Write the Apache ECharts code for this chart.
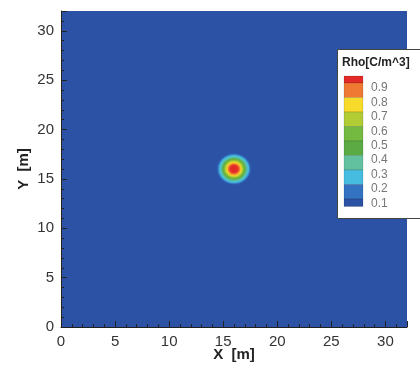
<!DOCTYPE html>
<html>
<head>
<meta charset="utf-8">
<script src="https://cdn.jsdelivr.net/npm/echarts@6/dist/echarts.min.js"></script>
<style>
  html, body { margin: 0; padding: 0; background: #fff; }
  #chart { width: 420px; height: 365px; }
</style>
</head>
<body>
<div id="chart"></div>
<script>
// contour bands (value inside each band) and their colours, low -> high
const bandValues = [0.05, 0.15, 0.25, 0.35, 0.45, 0.55, 0.65, 0.75, 0.85, 0.95];
const bandColors = ['#2c52a5', '#3472c2', '#46bde0', '#62c2a0', '#5aab44', '#74ba40', '#b2cc34', '#f7da2a', '#ef7833', '#e32a26'];
const legendLabels = ['0.9', '0.8', '0.7', '0.6', '0.5', '0.4', '0.3', '0.2', '0.1'];

// charge blob: centre [m] and outer radius [m] of each contour ring
const blobCenter = [16, 16];
const ringValues = [0.15, 0.25, 0.35, 0.45, 0.55, 0.65, 0.75, 0.85, 0.95];
const ringRadius = [1.5, 1.38, 1.2, 1.06, 0.95, 0.83, 0.7, 0.56, 0.4];

const xTicks = [0, 5, 10, 15, 20, 25, 30];
const yTicks = [0, 5, 10, 15, 20, 25, 30];

const chart = echarts.init(document.getElementById('chart'));
const font = 'Liberation Sans, Arial, sans-serif';

const ringData = ringValues.map((v, i) => [blobCenter[0], blobCenter[1], ringRadius[i], v]);

const pieces = bandValues.map((v, i) => ({ min: v - 0.05, max: v + 0.05, color: bandColors[i] }));

// legend built by hand to match the Tecplot style box
const legendEls = [];
legendEls.push({
  type: 'rect', shape: { x: 337.5, y: 49.5, width: 100, height: 169 },
  style: { fill: '#fff', stroke: '#444', lineWidth: 1 }
});
legendEls.push({
  type: 'text', x: 342, y: 63,
  style: { text: 'Rho[C/m^3]', font: 'bold 12px ' + font, fill: '#222', verticalAlign: 'middle' }
});
const bandHeights = [7, 14.5, 14.5, 14.5, 14.5, 14.5, 14.5, 14.5, 14.5, 7.5];
let by = 76;
for (let i = 0; i < bandHeights.length; i++) {
  const c = bandColors[bandColors.length - 1 - i];
  legendEls.push({
    type: 'rect', shape: { x: 344, y: by, width: 19, height: bandHeights[i] },
    style: { fill: c, stroke: 'rgba(0,0,0,0.25)', lineWidth: 0.5 }
  });
  by += bandHeights[i];
}
legendLabels.forEach((t, i) => {
  legendEls.push({
    type: 'text', x: 371, y: 88 + i * 14.4,
    style: { text: t, font: '12px ' + font, fill: '#777', verticalAlign: 'middle' }
  });
});

const axisCommon = {
  type: 'value', min: 0, max: 32, interval: 5,
  axisLine: { show: true, onZero: false, lineStyle: { color: '#222', width: 1 } },
  axisTick: { show: true, inside: true, length: 6, lineStyle: { color: '#222' } },
  minorTick: { show: true, splitNumber: 5, length: 3, lineStyle: { color: '#222' } },
  splitLine: { show: false },
  axisLabel: {
    fontSize: 15, color: '#333', fontFamily: font, showMaxLabel: false, margin: 7,
    formatter: (v) => (xTicks.indexOf(v) >= 0 ? String(v) : '')
  },
  nameLocation: 'middle',
  nameMoveOverlap: false,
  nameTextStyle: { fontSize: 15, fontWeight: 'bold', color: '#222', fontFamily: font }
};

chart.setOption({
  animation: false,
  grid: {
    left: 61, top: 11, right: 13, bottom: 38,
    outerBoundsMode: 'none', containLabel: false,
    show: true, backgroundColor: bandColors[0], borderWidth: 0
  },
  xAxis: Object.assign({}, axisCommon, { name: 'X  [m]', nameGap: 20 }),
  yAxis: Object.assign({}, axisCommon, {
    name: 'Y  [m]', nameGap: 30,
    axisLabel: Object.assign({}, axisCommon.axisLabel, {
      formatter: (v) => (yTicks.indexOf(v) >= 0 ? String(v) : '')
    })
  }),
  visualMap: {
    type: 'piecewise', show: false, dimension: 3, seriesIndex: 0, pieces: pieces
  },
  series: [{
    type: 'custom',
    data: ringData,
    clip: true,
    renderItem: function (params, api) {
      const c = api.coord([api.value(0), api.value(1)]);
      const s = api.size([api.value(2), api.value(2)]);
      return {
        type: 'circle',
        x: c[0], y: c[1], scaleY: s[1] / s[0],
        shape: { cx: 0, cy: 0, r: s[0] },
        style: { fill: api.visual('color'), shadowBlur: 2, shadowColor: api.visual('color') }
      };
    }
  }],
  graphic: legendEls
});
</script>
</body>
</html>
